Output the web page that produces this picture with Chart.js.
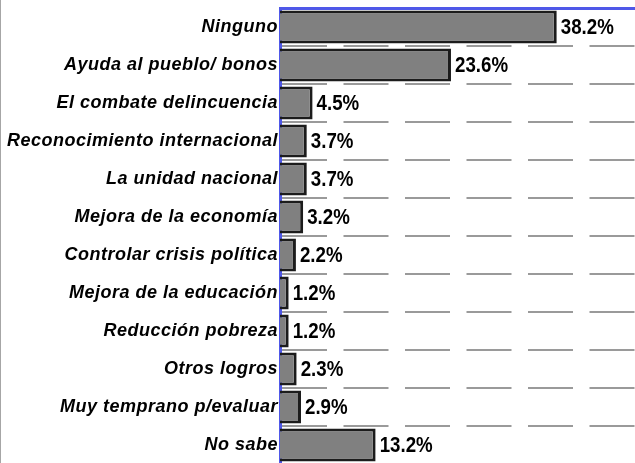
<!DOCTYPE html>
<html>
<head>
<meta charset="utf-8">
<script src="https://cdn.jsdelivr.net/npm/chart.js@4/dist/chart.umd.min.js"></script>
<style>
  html, body { margin: 0; padding: 0; background: #fff; overflow: hidden; }
  #wrap { width: 634px; height: 465px; border-left: 1px solid #a6a6a6; }
</style>
</head>
<body>
<div id="wrap"><canvas id="logrosChart" width="634" height="465"></canvas></div>
<script>
// Categories and values
const categories = [
  "Ninguno",
  "Ayuda al pueblo/ bonos",
  "El combate delincuencia",
  "Reconocimiento internacional",
  "La unidad nacional",
  "Mejora de la economía",
  "Controlar crisis política",
  "Mejora de la educación",
  "Reducción pobreza",
  "Otros logros",
  "Muy temprano p/evaluar",
  "No sabe"
];
const percents = [38.2, 23.6, 4.5, 3.7, 3.7, 3.2, 2.2, 1.2, 1.2, 2.3, 2.9, 13.2];

// slightly wider letter spacing for the axis labels
const spacing = {
  id: "spacing",
  beforeDraw(chart) { chart.ctx.letterSpacing = "0.5px"; },
  afterDraw(chart) { chart.ctx.letterSpacing = "0px"; }
};

// Value labels at the end of each bar (narrow bold look)
const valueLabels = {
  id: "valueLabels",
  afterDatasetsDraw(chart) {
    const ctx = chart.ctx;
    const meta = chart.getDatasetMeta(0);
    ctx.save();
    ctx.letterSpacing = "0px";
    ctx.font = "bold 22px 'Liberation Sans', Arial, sans-serif";
    ctx.fillStyle = "#000";
    ctx.textAlign = "left";
    ctx.textBaseline = "middle";
    meta.data.forEach((bar, i) => {
      ctx.save();
      ctx.translate(bar.x + 4, bar.y + 1);
      ctx.scale(0.85, 1);
      ctx.fillText(percents[i].toFixed(1) + "%", 0, 0);
      ctx.restore();
    });
    ctx.restore();
  }
};

const ctx = document.getElementById("logrosChart");
const myChart = new Chart(ctx, {
  type: "bar",
  data: {
    labels: categories,
    datasets: [
      {
        data: percents,
        backgroundColor: "#808080",
        borderColor: "#1c1c1c",
        borderWidth: 3,
        categoryPercentage: 1,
        barPercentage: 0.87
      }
    ]
  },
  plugins: [spacing, valueLabels],
  options: {
    indexAxis: "y",
    responsive: false,
    animation: false,
    devicePixelRatio: 1,
    layout: { padding: { top: 8, bottom: 1, right: 0, left: 0 } },
    plugins: {
      legend: { display: false },
      tooltip: { enabled: false }
    },
    scales: {
      x: {
        position: "top",
        z: 1,
        min: 0,
        max: 49,
        ticks: { display: false },
        grid: { display: false, drawTicks: false },
        border: { display: true, color: "#4f58e8", width: 3 }
      },
      y: {
        z: 1,
        afterFit: (scale) => {
          scale.width = 279;
          scale.paddingTop = 0;
          scale.paddingBottom = 0;
        },
        ticks: {
          color: "#000",
          padding: 2,
          font: { family: "'Liberation Sans', Arial, sans-serif", size: 18, weight: "bold", style: "italic" }
        },
        grid: {
          color: "#9a9a9a",
          lineWidth: 2,
          drawTicks: false
        },
        border: { display: true, color: "#4f58e8", width: 3, dash: [45, 16.5] }
      }
    }
  }
});
</script>
</body>
</html>
